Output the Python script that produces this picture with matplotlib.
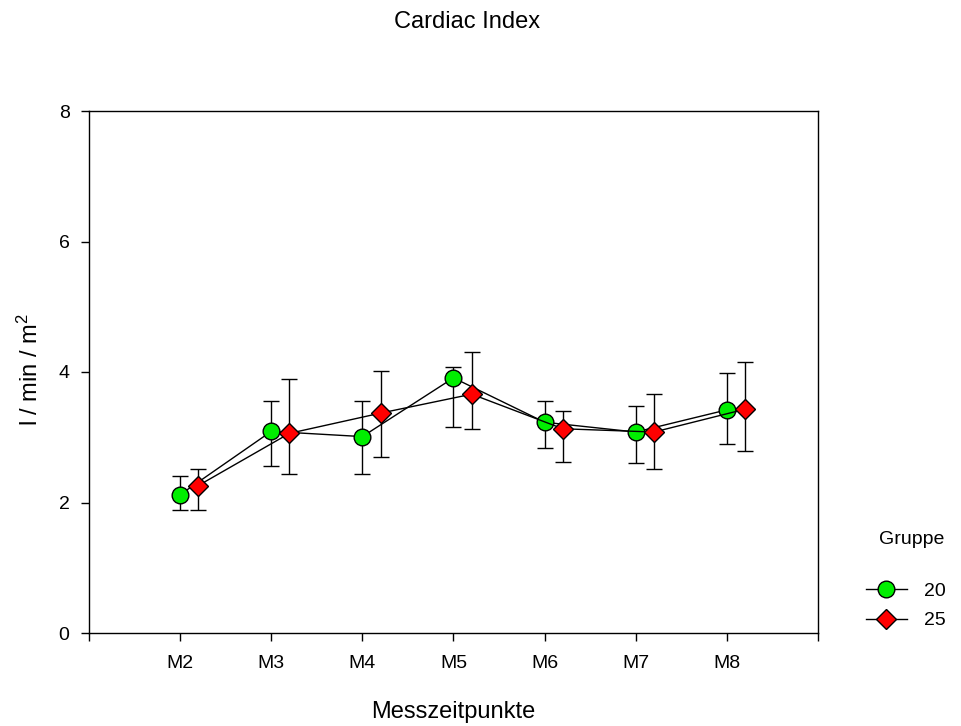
import matplotlib.pyplot as plt
import numpy as np

plt.rcParams['font.family'] = ['Liberation Sans', 'DejaVu Sans']
plt.rcParams['mathtext.fontset'] = 'custom'
plt.rcParams['mathtext.rm'] = 'Liberation Sans'
plt.rcParams['mathtext.it'] = 'Liberation Sans'

# Messzeitpunkte
labels = ['M2', 'M3', 'M4', 'M5', 'M6', 'M7', 'M8']

# Gruppe 20: Mittelwert, obere / untere Fehlergrenze
g20_mean = [2.12, 3.09, 3.01, 3.91, 3.23, 3.08, 3.42]
g20_upper = [2.40, 3.55, 3.56, 4.08, 3.56, 3.48, 3.99]
g20_lower = [1.89, 2.56, 2.43, 3.15, 2.84, 2.61, 2.89]

# Gruppe 25
g25_mean = [2.26, 3.06, 3.37, 3.66, 3.13, 3.08, 3.43]
g25_upper = [2.51, 3.89, 4.01, 4.30, 3.40, 3.66, 4.16]
g25_lower = [1.89, 2.43, 2.70, 3.13, 2.62, 2.51, 2.79]


def main():
    fig = plt.figure(figsize=(9.62, 7.26), dpi=100)
    ax = fig.add_axes([89 / 962, 1 - 633 / 726, 729 / 962, 522 / 726])

    x = np.arange(2, 2 + len(labels))
    groups = [
        ('20', x, g20_mean, g20_upper, g20_lower, 'o', '#00ee00', 12),
        ('25', x + 0.2, g25_mean, g25_upper, g25_lower, 'D', '#ff0000', 10),
    ]
    handles = []
    for name, xs, mean, up, lo, marker, color, ms in groups:
        mean = np.array(mean)
        yerr = [mean - np.array(lo), np.array(up) - mean]
        ax.errorbar(xs, mean, yerr=yerr, fmt='none', ecolor='black',
                    elinewidth=1.0, capsize=6, capthick=1.0, zorder=2)
        h, = ax.plot(xs, mean, color='black', lw=1.0, marker=marker,
                     markersize=ms, markerfacecolor=color,
                     markeredgecolor='black', markeredgewidth=1.0,
                     zorder=3, label=name)
        handles.append(h)

    ax.set_xlim(1, 9)
    ax.set_ylim(0, 8)
    ax.set_xticks(np.arange(1, 10))
    ax.set_xticklabels([''] + labels + [''])
    ax.set_yticks([0, 2, 4, 6, 8])
    ax.tick_params(direction='out', length=6, width=1.0, labelsize=14,
                   pad=8, top=False, right=False)
    ax.tick_params(axis='x', pad=9.5)
    for sp in ax.spines.values():
        sp.set_linewidth(1.0)

    # Achsentitel und Überschrift
    fig.text(453 / 962, 1 - 712 / 726, 'Messzeitpunkte', fontsize=17,
             ha='center', va='center')
    fig.text(30 / 962, 1 - 370 / 726, 'l / min / m$^2$', fontsize=17,
             rotation=90, ha='center', va='center')
    fig.text(467 / 962, 1 - 22 / 726, 'Cardiac Index', fontsize=17,
             ha='center', va='center')

    # Legende
    fig.text(912 / 962, 1 - 540 / 726, 'Gruppe', fontsize=14,
             ha='center', va='center')
    fig.legend(handles=handles, loc='center left',
               bbox_to_anchor=(866 / 962, 1 - 606 / 726),
               frameon=False, fontsize=14, handlelength=2.1,
               handletextpad=0.9, labelspacing=0.6, borderpad=0,
               borderaxespad=0)

    fig.savefig('out.png', dpi=100)


if __name__ == '__main__':
    main()
